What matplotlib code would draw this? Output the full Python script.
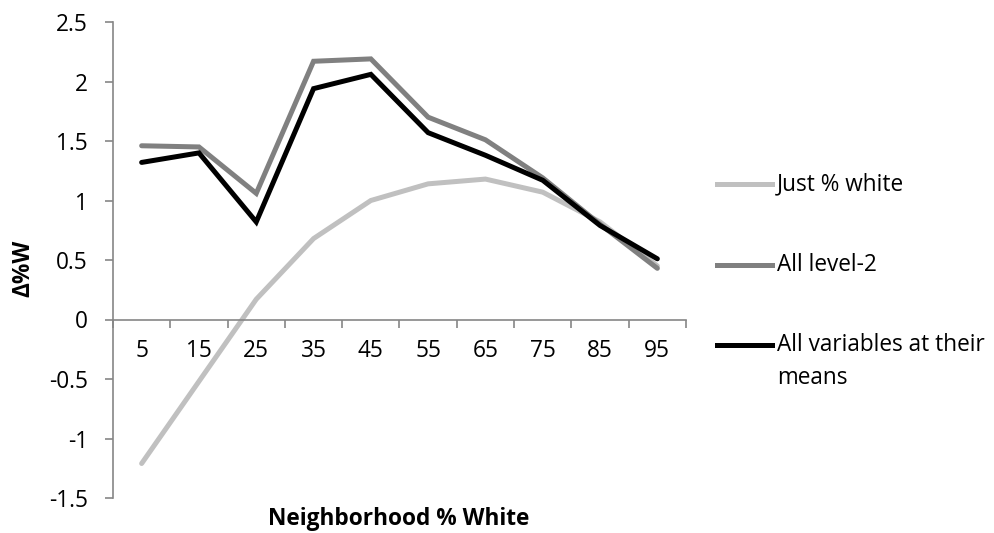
import numpy as np
import matplotlib
matplotlib.use("Agg")
import matplotlib.pyplot as plt
from matplotlib.lines import Line2D
from matplotlib.ticker import FuncFormatter

# data
categories = ["5", "15", "25", "35", "45", "55", "65", "75", "85", "95"]
just_white = [-1.21, -0.52, 0.17, 0.68, 1.00, 1.14, 1.18, 1.07, 0.82, 0.45]
all_level2 = [1.46, 1.45, 1.06, 2.17, 2.19, 1.70, 1.51, 1.19, 0.80, 0.43]
all_means = [1.32, 1.40, 0.82, 1.94, 2.06, 1.57, 1.38, 1.17, 0.79, 0.51]
series_names = ["Just % white", "All level-2", "All variables at their\nmeans"]
series_colors = ["#c0c0c0", "#808080", "#000000"]
y_ticks = [-1.5, -1, -0.5, 0, 0.5, 1, 1.5, 2, 2.5]

plt.rcParams["font.family"] = ["Open Sans", "DejaVu Sans"]
fs = 16.3
axis_col = "#868686"

fig = plt.figure(figsize=(9.95, 5.33), dpi=100)
ax = fig.add_axes([113 / 995, 35 / 533, 573 / 995, 476 / 533])

x = np.arange(len(categories))
for vals, col in zip([just_white, all_level2, all_means], series_colors):
    ax.plot(x, vals, color=col, lw=3.6, solid_joinstyle="miter", solid_capstyle="round")

ax.set_xlim(-0.5, len(categories) - 0.5)
ax.set_ylim(y_ticks[0], y_ticks[-1])

for s in ["top", "right"]:
    ax.spines[s].set_visible(False)
ax.spines["bottom"].set_position(("data", 0))
for s in ["left", "bottom"]:
    ax.spines[s].set_color(axis_col)
    ax.spines[s].set_linewidth(1.2)

ax.set_yticks(y_ticks)
ax.yaxis.set_major_formatter(FuncFormatter(lambda v, p: f"{v:g}"))
ax.tick_params(axis="y", labelsize=fs, length=6, width=1.2, color=axis_col, pad=12)

# boundary ticks without labels, labels at category centers
ax.set_xticks(np.arange(-0.5, len(categories)))
ax.set_xticklabels([])
ax.set_xticks(x, minor=True)
ax.set_xticklabels(categories, minor=True)
ax.tick_params(axis="x", which="major", length=6, width=1.2, color=axis_col)
ax.tick_params(axis="x", which="minor", length=0, labelsize=fs, pad=14)

fig.text(399 / 995, 1 - 519 / 533, "Neighborhood % White", ha="center", va="center",
         fontsize=fs, fontweight="bold")
fig.text(23 / 995, 1 - 268 / 533, "Δ%W", ha="center", va="center", rotation=90,
         fontsize=fs, fontweight="bold")

# legend drawn by hand to match layout
leg_y = [184, 265, 345]
for name, col, yy in zip(series_names, series_colors, leg_y):
    fy = 1 - yy / 533
    fig.add_artist(Line2D([717 / 995, 772 / 995], [fy, fy], color=col, lw=3.6,
                          transform=fig.transFigure))
    if "\n" in name:
        fig.text(777 / 995, fy + 12 / 533, name, ha="left", va="top", fontsize=fs,
                 linespacing=1.5)
    else:
        fig.text(777 / 995, fy, name, ha="left", va="center", fontsize=fs)

fig.savefig("out.png", dpi=100)
